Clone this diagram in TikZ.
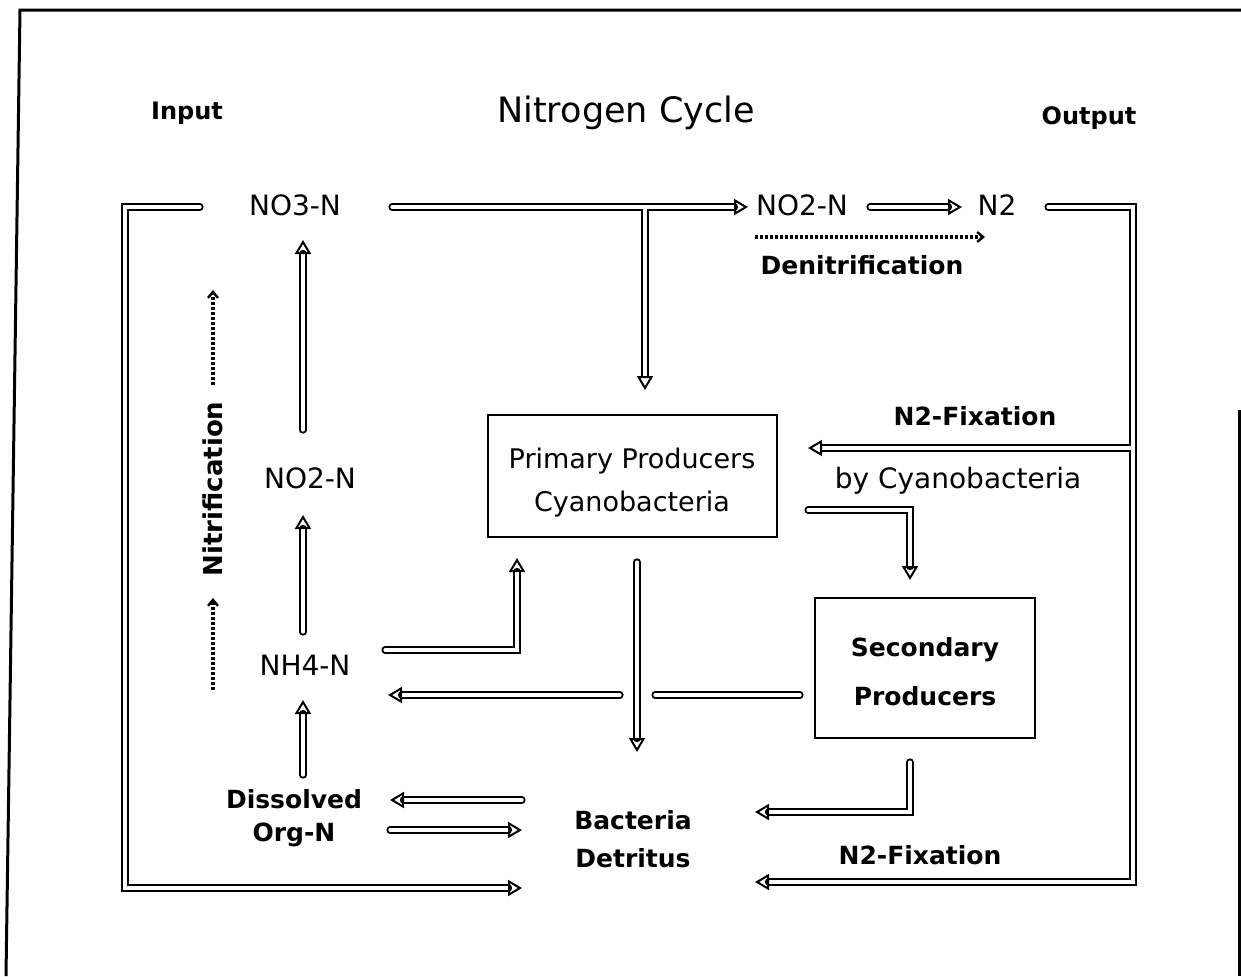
\documentclass[tikz,border=0pt]{standalone}
\usepackage{fontspec}
\setmainfont{DejaVu Sans}
\usetikzlibrary{arrows.meta}
\tikzset{
  dl/.style={draw=black, double=white, line width=1pt, double distance=1.6pt, line cap=round},
  arr/.style={dl, -{Triangle[open, length=7pt, width=8pt, line width=1pt]}},
  branch/.style={arr, line cap=butt},
  wav/.style={line width=2pt, dash pattern=on 1.6pt off 0.9pt, -{Straight Barb[length=3pt, width=5pt, line width=1.2pt]}},
  frame/.style={line width=1.5pt},
  pbox/.style={draw, line width=1pt, inner sep=0pt},
  rl/.style={font=\fontsize{14}{16}\selectfont, inner sep=1pt},
  bl/.style={font=\bfseries\fontsize{12.5}{15}\selectfont, inner sep=1pt},
}
\begin{document}
\begin{tikzpicture}[x=0.5pt, y=-0.5pt]
\useasboundingbox (0,0) rectangle (1241,976);
% frame
\draw[frame] (1241,10) -- (20,10) -- (6,976);
\draw[frame] (1239,410) -- (1239,976);

% titles
\node[bl, font=\bfseries\fontsize{12}{14}\selectfont] (input) at (187,113) {Input};
\node[rl, font=\fontsize{17.5}{20}\selectfont] (title) at (626,113) {Nitrogen Cycle};
\node[bl, font=\bfseries\fontsize{12}{14}\selectfont] (output) at (1089,118) {Output};

% labels
\node[rl] (no3) at (295,205) {NO3-N};
\node[rl] (no2r) at (802,205) {NO2-N};
\node[rl] (n2) at (997,205) {N2};
\node[bl] (denit) at (862,265) {Denitrification};
\node[bl, font=\bfseries\fontsize{13}{15}\selectfont, rotate=90] (nitri) at (213,489) {Nitrification};
\node[rl] (no2l) at (310,478) {NO2-N};
\node[rl] (nh4) at (305,665) {NH4-N};
\node[bl, align=center, font=\bfseries\fontsize{12.5}{16.5}\selectfont] (don) at (294,818) {Dissolved\\Org-N};
\node[bl, align=center, font=\bfseries\fontsize{12.5}{19}\selectfont] (bact) at (633,839) {Bacteria\\Detritus};
\node[pbox, minimum width=144.5pt, minimum height=61pt] (prim) at (632.5,476) {};
\node[rl, align=center, font=\fontsize{13.5}{21.5}\selectfont] (primt) at (632,483) {Primary Producers\\Cyanobacteria};
\node[pbox, minimum width=110pt, minimum height=70pt] (sec) at (925,668) {};
\node[bl, align=center, font=\bfseries\fontsize{12.5}{24.5}\selectfont] (sect) at (925,672) {Secondary\\Producers};
\node[bl] (fix1) at (975,416) {N2-Fixation};
\node[rl] (bycy) at (958,481) {by Cyanobacteria};
\node[bl] (fix2) at (920,855) {N2-Fixation};

% named connector points
\coordinate (tl1) at (200,207);
\coordinate (tlc) at (125,207);
\coordinate (blc) at (125,888);
\coordinate (bla) at (522,888);
\coordinate (t1) at (392,207);
\coordinate (t2) at (748,207);
\coordinate (tb) at (645,208.6);
\coordinate (tbe) at (645,390);
\coordinate (r1) at (870,207);
\coordinate (r2) at (962,207);
\coordinate (rs) at (1048,207);
\coordinate (rc) at (1133,207);
\coordinate (rb) at (1133,882);
\coordinate (rbe) at (755,882);
\coordinate (rf) at (1131.4,448);
\coordinate (rfe) at (808,448);
\coordinate (ps1) at (808,510);
\coordinate (ps2) at (910,510);
\coordinate (ps3) at (910,580);
\coordinate (sb1) at (910,762);
\coordinate (sb2) at (910,812);
\coordinate (sb3) at (755,812);
\coordinate (sn1) at (800,695);
\coordinate (sn2) at (655,695);
\coordinate (sn3) at (620,695);
\coordinate (sn4) at (388,695);
\coordinate (pb1) at (637,562);
\coordinate (pb2) at (637,752);
\coordinate (np1) at (385,650);
\coordinate (np2) at (517,650);
\coordinate (np3) at (517,558);
\coordinate (v1a) at (303,430);
\coordinate (v1b) at (303,240);
\coordinate (v2a) at (303,632);
\coordinate (v2b) at (303,515);
\coordinate (v3a) at (303,775);
\coordinate (v3b) at (303,700);
\coordinate (h1a) at (522,800);
\coordinate (h1b) at (390,800);
\coordinate (h2a) at (390,830);
\coordinate (h2b) at (522,830);

% connectors
\draw[arr] (tl1) -- (tlc) -- (blc) -- (bla);
\draw[arr] (t1) -- (t2);
\draw[branch] (tb) -- (tbe);
\draw[arr] (r1) -- (r2);
\draw[arr] (rs) -- (rc) -- (rb) -- (rbe);
\draw[branch] (rf) -- (rfe);
\draw[arr] (ps1) -- (ps2) -- (ps3);
\draw[arr] (sb1) -- (sb2) -- (sb3);
\draw[dl] (sn1) -- (sn2);
\draw[arr] (sn3) -- (sn4);
\draw[arr] (pb1) -- (pb2);
\draw[arr] (np1) -- (np2) -- (np3);
\draw[arr] (v1a) -- (v1b);
\draw[arr] (v2a) -- (v2b);
\draw[arr] (v3a) -- (v3b);
\draw[arr] (h1a) -- (h1b);
\draw[arr] (h2a) -- (h2b);

% dotted process lines
\coordinate (d1) at (755,237);
\coordinate (d2) at (985,237);
\coordinate (n1a) at (213,385);
\coordinate (n1b) at (213,290);
\coordinate (n2a) at (213,690);
\coordinate (n2b) at (213,598);
\draw[wav] (d1) -- (d2);
\draw[wav] (n1a) -- (n1b);
\draw[wav] (n2a) -- (n2b);
\end{tikzpicture}
\end{document}
